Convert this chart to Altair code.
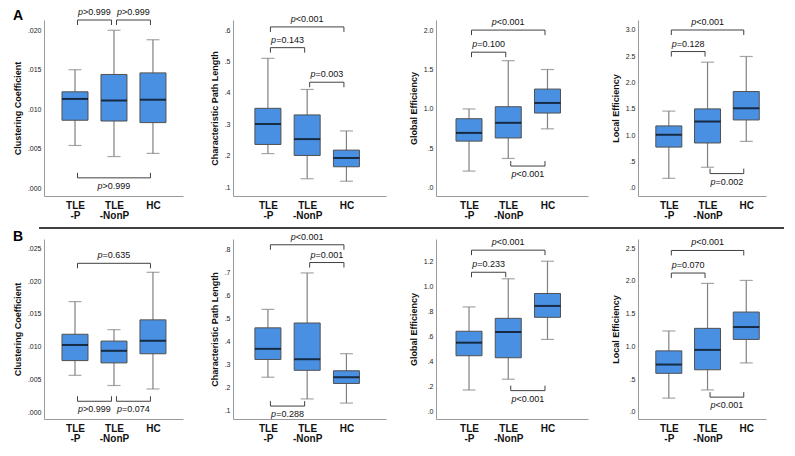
import altair as alt
import pandas as pd

FONT = "Liberation Sans"

# ---------------- data ----------------
GROUPS = [1, 2, 3]
GROUP_LABELS = [["TLE", "-P"], ["TLE", "-NonP"], ["HC"]]
METRICS = ["Clustering Coefficient", "Characteristic Path Length",
           "Global Efficiency", "Local Efficiency"]
ROW_TAGS = ["A", "B"]

# box summaries per group: [whisker low, Q1, median, Q3, whisker high]
A_CC = [[0.0054, 0.0086, 0.0113, 0.0122, 0.0150],
        [0.0040, 0.0085, 0.0111, 0.0144, 0.0200],
        [0.0044, 0.0083, 0.0112, 0.0146, 0.0188]]
A_CPL = [[0.207, 0.236, 0.301, 0.351, 0.510],
         [0.127, 0.201, 0.253, 0.330, 0.411],
         [0.119, 0.165, 0.193, 0.218, 0.279]]
A_GE = [[0.212, 0.592, 0.696, 0.876, 1.000],
        [0.372, 0.632, 0.824, 1.028, 1.612],
        [0.748, 0.948, 1.076, 1.252, 1.500]]
A_LE = [[0.180, 0.774, 1.008, 1.176, 1.458],
        [0.390, 0.852, 1.260, 1.500, 2.388],
        [0.882, 1.290, 1.512, 1.830, 2.496]]
B_CC = [[0.00565, 0.00789, 0.01027, 0.01190, 0.01687],
        [0.00410, 0.00754, 0.00938, 0.01086, 0.01260],
        [0.00357, 0.00893, 0.01091, 0.01409, 0.02133]]
B_CPL = [[0.246, 0.323, 0.369, 0.460, 0.540],
         [0.152, 0.276, 0.324, 0.481, 0.698],
         [0.134, 0.219, 0.246, 0.274, 0.348]]
B_GE = [[0.174, 0.447, 0.551, 0.642, 0.836],
        [0.260, 0.431, 0.636, 0.745, 1.060],
        [0.577, 0.753, 0.844, 0.943, 1.200]]
B_LE = [[0.209, 0.588, 0.722, 0.931, 1.235],
        [0.334, 0.642, 0.946, 1.275, 1.962],
        [0.747, 1.106, 1.295, 1.524, 2.007]]

# significance brackets: (from group, to group, level, side, p text)
A_CC_BR = [(1, 2, 0.0213, "top", ">0.999"), (2, 3, 0.0213, "top", ">0.999"),
           (1, 3, 0.0013, "bottom", ">0.999")]
A_CPL_BR = [(1, 3, 0.610, "top", "<0.001"), (1, 2, 0.544, "top", "=0.143"),
            (2, 3, 0.434, "top", "=0.003")]
A_GE_BR = [(1, 3, 2.000, "top", "<0.001"), (1, 2, 1.720, "top", "=0.100"),
           (2, 3, 0.276, "bottom", "<0.001")]
A_LE_BR = [(1, 3, 3.000, "top", "<0.001"), (1, 2, 2.590, "top", "=0.128"),
           (2, 3, 0.270, "bottom", "=0.002")]
B_CC_BR = [(1, 3, 0.0227, "top", "=0.635"), (1, 2, 0.0017, "bottom", ">0.999"),
           (2, 3, 0.0017, "bottom", "=0.074")]
B_CPL_BR = [(1, 3, 0.820, "top", "<0.001"), (2, 3, 0.743, "top", "=0.001"),
            (1, 2, 0.121, "bottom", "=0.288")]
B_GE_BR = [(1, 3, 1.288, "top", "<0.001"), (1, 2, 1.112, "top", "=0.233"),
           (2, 3, 0.169, "bottom", "<0.001")]
B_LE_BR = [(1, 3, 2.465, "top", "<0.001"), (1, 2, 2.120, "top", "=0.070"),
           (2, 3, 0.224, "bottom", "<0.001")]

# y-axis tick labels per panel
TICKS_A = [[0, 0.005, 0.010, 0.015, 0.020],
           [0.1, 0.2, 0.3, 0.4, 0.5, 0.6],
           [0, 0.5, 1.0, 1.5, 2.0],
           [0, 0.5, 1.0, 1.5, 2.0, 2.5, 3.0]]
TICKS_B = [[0, 0.005, 0.010, 0.015, 0.020, 0.025],
           [0.1, 0.2, 0.3, 0.4, 0.5, 0.6, 0.7, 0.8],
           [0, 0.2, 0.4, 0.6, 0.8, 1.0, 1.2],
           [0, 0.5, 1.0, 1.5, 2.0, 2.5]]
DECIMALS = [3, 1, 1, 1]

# ---------------- layout / style ----------------
YDOM_A = [(-0.001, 0.0213), (0.072, 0.632), (-0.104, 2.128), (-0.156, 3.19)]
YDOM_B = [(-0.001, 0.0264), (0.065, 0.845), (-0.057, 1.377), (-0.11, 2.64)]
PANEL_W = [139, 153, 152, 128]
X_START = [0.333, 0.238, 0.286, 0.333]
PX_PER_GROUP = 42
HSPACE = 50
H_A, H_B = 176, 180

BOX_FILL = "#4a90e2"
BOX_EDGE = "#505050"
WHISKER = "#808080"
AXIS_COLOR = "#9a9a9a"
BR_COLOR = "#404040"


def js_list(items):
    return "[" + ",".join("'" + s + "'" for s in items) + "]"


XLABEL_EXPR = ("datum.value == 1 ? " + js_list(GROUP_LABELS[0]) +
               " : datum.value == 2 ? " + js_list(GROUP_LABELS[1]) +
               " : " + js_list(GROUP_LABELS[2]))


def panel(i, stats, brackets, ticks, ydom, height, tag=None, tag_dy=0):
    box = pd.DataFrame({
        "g": GROUPS,
        "lo": [s[0] for s in stats], "q1": [s[1] for s in stats],
        "med": [s[2] for s in stats], "q3": [s[3] for s in stats],
        "hi": [s[4] for s in stats]})
    br = pd.DataFrame(brackets, columns=["g1", "g2", "lvl", "side", "p"])
    xs = alt.Scale(domain=[X_START[i], X_START[i] + PANEL_W[i] / PX_PER_GROUP],
                   nice=False, zero=False)
    ys = alt.Scale(domain=list(ydom), nice=False, zero=False)
    d = DECIMALS[i]
    ylab = (f"datum.value < 0.9999 ? substring(format(datum.value, '.{d}f'), 1)"
            f" : format(datum.value, '.{d}f')")
    xaxis = alt.Axis(values=GROUPS, labelExpr=XLABEL_EXPR, title=None, ticks=False,
                     grid=False, domainColor=AXIS_COLOR, labelFont=FONT,
                     labelFontSize=10, labelFontWeight="bold", labelLineHeight=10.5,
                     labelPadding=4, labelColor="#111", labelAngle=0)
    yaxis = alt.Axis(values=ticks, labelExpr=ylab, title=METRICS[i], ticks=False,
                     grid=False, domainColor=AXIS_COLOR, labelFont=FONT,
                     labelFontSize=7, labelPadding=3, labelColor="#222",
                     titleFont=FONT, titleFontSize=9, titleFontWeight="bold",
                     titlePadding=5, titleColor="#111")

    def gx(f):
        return alt.X(f"{f}:Q", scale=xs, axis=xaxis)

    def gy(f):
        return alt.Y(f"{f}:Q", scale=ys, axis=yaxis)

    base = alt.Chart(box)
    layers = [
        base.mark_rule(color=WHISKER, strokeWidth=1.2).encode(
            x=gx("g"), y=gy("lo"), y2="hi:Q"),
        base.mark_tick(orient="horizontal", size=13, thickness=1.2, color=WHISKER).encode(
            x=gx("g"), y=gy("lo")),
        base.mark_tick(orient="horizontal", size=13, thickness=1.2, color=WHISKER).encode(
            x=gx("g"), y=gy("hi")),
        base.mark_bar(size=26, fill=BOX_FILL, stroke=BOX_EDGE, strokeWidth=1).encode(
            x=gx("g"), y=gy("q1"), y2="q3:Q"),
        base.mark_tick(orient="horizontal", size=26, thickness=2, color="black").encode(
            x=gx("g"), y=gy("med")),
    ]
    for side, sign, tdy in (("top", 1, -5), ("bottom", -1, 11)):
        src = (alt.Chart(br)
               .transform_filter(f"datum.side == '{side}'")
               .transform_calculate(mid="(datum.g1 + datum.g2) / 2"))
        layers += [
            src.mark_rule(color=BR_COLOR, strokeWidth=1, xOffset=2.5, x2Offset=-2.5).encode(
                x=gx("g1"), x2="g2:Q", y=gy("lvl")),
            src.mark_rule(color=BR_COLOR, strokeWidth=1, xOffset=2.5, y2Offset=5 * sign).encode(
                x=gx("g1"), y=gy("lvl"), y2="lvl:Q"),
            src.mark_rule(color=BR_COLOR, strokeWidth=1, xOffset=-2.5, y2Offset=5 * sign).encode(
                x=gx("g2"), y=gy("lvl"), y2="lvl:Q"),
            src.mark_text(text="p", font=FONT, fontSize=9, fontStyle="italic", align="right",
                          baseline="alphabetic", dx=-11.4, dy=tdy, color="#111").encode(
                x=gx("mid"), y=gy("lvl")),
            src.mark_text(font=FONT, fontSize=9, align="left", baseline="alphabetic",
                          dx=-11.4, dy=tdy, color="#111").encode(
                x=gx("mid"), y=gy("lvl"), text="p:N"),
        ]
    if tag:
        # panel-row letter, anchored at the plot's top-left corner
        tagdf = pd.DataFrame({"tag": [tag], "tx": [X_START[i]], "ty": [ydom[1]]})
        layers.append(
            alt.Chart(tagdf).mark_text(font=FONT, fontSize=14, fontWeight="bold",
                                       align="left", baseline="alphabetic",
                                       dx=-36, dy=tag_dy, color="#000").encode(
                x=gx("tx"), y=gy("ty"), text="tag:N"))
    return alt.layer(*layers).properties(width=PANEL_W[i], height=height)


stats_a = [A_CC, A_CPL, A_GE, A_LE]
stats_b = [B_CC, B_CPL, B_GE, B_LE]
br_a = [A_CC_BR, A_CPL_BR, A_GE_BR, A_LE_BR]
br_b = [B_CC_BR, B_CPL_BR, B_GE_BR, B_LE_BR]

row_a = alt.hconcat(*[
    panel(i, stats_a[i], br_a[i], TICKS_A[i], YDOM_A[i], H_A,
          tag=ROW_TAGS[0] if i == 0 else None, tag_dy=0) for i in range(4)],
    spacing=HSPACE, bounds="flush")
row_b = alt.hconcat(*[
    panel(i, stats_b[i], br_b[i], TICKS_B[i], YDOM_B[i], H_B,
          tag=ROW_TAGS[1] if i == 0 else None, tag_dy=2) for i in range(4)],
    spacing=HSPACE, bounds="flush")

SEP = pd.DataFrame({"a": [0], "b": [1]})
sep = alt.Chart(SEP).mark_rule(color="black", strokeWidth=1.5, xOffset=-5).encode(
    x=alt.X("a:Q", scale=alt.Scale(domain=[0, 1]), axis=None),
    x2="b:Q",
    y=alt.Y("a:Q", scale=alt.Scale(domain=[0, 1]), axis=None),
).properties(width=740, height=6)

chart = (alt.vconcat(row_a, sep, row_b, spacing=1)
         .properties(padding={"left": 5, "top": 0, "right": 0, "bottom": 0})
         .configure(font=FONT)
         .configure_view(stroke=None))

chart.save("out.html", embed_options={"renderer": "svg", "actions": False})
